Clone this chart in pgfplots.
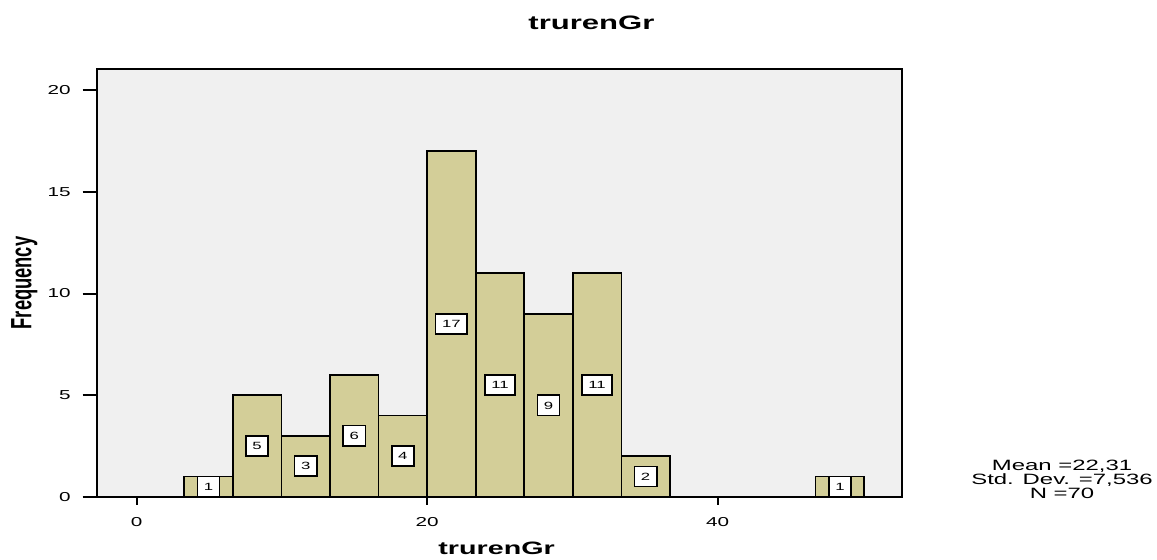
\documentclass[border=0pt]{standalone}
\usepackage{pgfplots}
\usepackage{pgfplotstable}
\usepackage{fontspec}
\setmainfont{Liberation Sans}
\pgfplotsset{compat=1.18}
\definecolor{barfill}{HTML}{D3CE98}
\definecolor{bgfill}{HTML}{F0F0F0}

% histogram bins: left edge, count (last row = right edge of last bin)
\pgfplotstableread{
left n
3.280 1
6.624 5
9.968 3
13.312 6
16.656 4
20.000 17
23.344 11
26.688 9
30.032 11
33.376 2
36.720 0
40.064 0
43.408 0
46.752 1
50.096 1
}\bins

% bar labels: bin centre, count
\pgfplotstableread{
mid n
4.952 1
8.296 5
11.640 3
14.984 6
18.328 4
21.672 17
25.016 11
28.360 9
31.704 11
35.048 2
48.424 1
}\labels

\begin{document}
\begin{tikzpicture}
\useasboundingbox (0,0) rectangle (1157bp,560bp);
\begin{axis}[
  at={(96.7bp,63.3bp)}, anchor=south west,
  scale only axis,
  width=805.3bp, height=427.7bp,
  xmin=-2.75, xmax=52.7,
  ymin=0, ymax=21.05,
  axis background/.style={fill=bgfill},
  axis line style={line width=2bp, black},
  xtick={0,20,40}, ytick={0,5,10,15,20},
  tick align=outside,
  major tick length=14bp,
  xtick pos=bottom, ytick pos=left,
  xtick style={/pgfplots/major tick length=8bp, line width=2bp, black},
  ytick style={line width=2bp, black},
  /pgf/number format/assume math mode=true,
  ticklabel style={font=\fontsize{13}{13}\selectfont},
  yticklabel style={xscale=1.6, xshift=-4bp},
  xticklabel style={xscale=1.6, yshift=-3bp},
  xlabel={trurenGr},
  ylabel={Frequency},
  every axis x label/.style={at={(axis description cs:0.4966,-0.12)}, anchor=center,
     font=\bfseries\fontsize{18}{18}\selectfont, xscale=1.6},
  every axis y label/.style={at={(axis description cs:-0.0900,0.4997)}, anchor=center,
     font=\bfseries\fontsize{18.4}{18.4}\selectfont, xscale=1.6, rotate=90},
  title={trurenGr},
  title style={at={(axis description cs:0.6144,1.095)}, anchor=center,
     font=\bfseries\fontsize{19.5}{19.5}\selectfont, xscale=1.6},
  clip=false,
]
\addplot[ybar interval, fill=barfill, draw=black, line width=1.7bp]
  table[x=left, y=n] {\bins};
\addplot[draw=none, mark=none, nodes near coords, point meta=explicit,
  every node near coord/.append style={anchor=center, draw=black, fill=white,
    line width=1.6bp, font=\fontsize{10.5}{10.5}\selectfont,
    text height=7.5bp, text depth=0bp, inner xsep=4bp, inner ysep=6.3bp, xscale=1.6}]
  table[x=mid, y expr=\thisrow{n}/2, meta=n] {\labels};
\node[align=center, font=\fontsize{15}{14}\selectfont, xscale=1.6, anchor=center]
  at (axis description cs:1.1987,0.0414) {Mean =22,31\\Std. Dev. =7,536\\N =70};
\end{axis}
\end{tikzpicture}
\end{document}
